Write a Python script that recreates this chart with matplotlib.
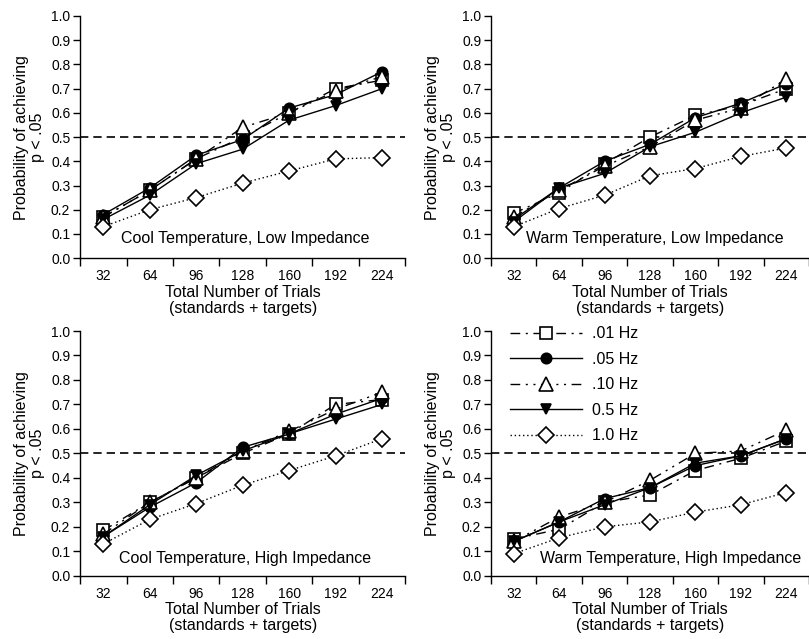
import matplotlib
matplotlib.use("Agg")
import matplotlib.pyplot as plt
from matplotlib.ticker import FixedLocator, NullFormatter

plt.rcParams['font.family'] = ['Liberation Sans', 'DejaVu Sans']

trials = ["32", "64", "96", "128", "160", "192", "224"]
series_names = [".01 Hz", ".05 Hz", ".10 Hz", "0.5 Hz", "1.0 Hz"]

cool_low = {
    ".01 Hz": [0.17, 0.28, 0.41, 0.50, 0.60, 0.70, 0.735],
    ".05 Hz": [0.18, 0.29, 0.425, 0.49, 0.62, 0.675, 0.77],
    ".10 Hz": [0.17, 0.28, 0.41, 0.54, 0.60, 0.69, 0.75],
    "0.5 Hz": [0.16, 0.26, 0.39, 0.45, 0.57, 0.63, 0.70],
    "1.0 Hz": [0.13, 0.20, 0.25, 0.31, 0.36, 0.41, 0.415],
}
warm_low = {
    ".01 Hz": [0.185, 0.27, 0.39, 0.50, 0.59, 0.63, 0.70],
    ".05 Hz": [0.16, 0.29, 0.40, 0.47, 0.58, 0.64, 0.72],
    ".10 Hz": [0.17, 0.28, 0.38, 0.46, 0.57, 0.62, 0.74],
    "0.5 Hz": [0.15, 0.29, 0.35, 0.46, 0.52, 0.60, 0.665],
    "1.0 Hz": [0.13, 0.205, 0.26, 0.34, 0.37, 0.42, 0.455],
}
cool_high = {
    ".01 Hz": [0.185, 0.30, 0.40, 0.50, 0.58, 0.70, 0.72],
    ".05 Hz": [0.16, 0.28, 0.38, 0.525, 0.58, 0.66, 0.725],
    ".10 Hz": [0.17, 0.30, 0.40, 0.51, 0.59, 0.68, 0.75],
    "0.5 Hz": [0.16, 0.29, 0.41, 0.51, 0.58, 0.64, 0.70],
    "1.0 Hz": [0.13, 0.23, 0.295, 0.37, 0.43, 0.49, 0.56],
}
warm_high = {
    ".01 Hz": [0.15, 0.19, 0.30, 0.33, 0.43, 0.48, 0.55],
    ".05 Hz": [0.14, 0.22, 0.315, 0.36, 0.45, 0.49, 0.56],
    ".10 Hz": [0.14, 0.24, 0.30, 0.39, 0.50, 0.51, 0.595],
    "0.5 Hz": [0.14, 0.22, 0.29, 0.36, 0.46, 0.49, 0.56],
    "1.0 Hz": [0.09, 0.155, 0.20, 0.22, 0.26, 0.29, 0.34],
}
panel_titles = ["Cool Temperature, Low Impedance", "Warm Temperature, Low Impedance",
                "Cool Temperature, High Impedance", "Warm Temperature, High Impedance"]
panels = [cool_low, warm_low, cool_high, warm_high]

styles = {
    ".01 Hz": dict(ls=(0, (7, 4, 1.5, 4)), marker='s', mfc='white', ms=8.5),
    ".05 Hz": dict(ls='-', marker='o', mfc='black', ms=7.5),
    ".10 Hz": dict(ls=(0, (7, 4, 1.5, 4, 1.5, 4)), marker='^', mfc='white', ms=10),
    "0.5 Hz": dict(ls='-', marker='v', mfc='black', ms=6.5),
    "1.0 Hz": dict(ls=(0, (1, 2)), marker='D', mfc='white', ms=8),
}

fig = plt.figure(figsize=(8.09, 6.39), dpi=100)
positions = [
    [0.099, 0.596, 0.402, 0.379],
    [0.607, 0.596, 0.393, 0.379],
    [0.099, 0.099, 0.402, 0.383],
    [0.607, 0.099, 0.393, 0.383],
]
text_x = [3.05, 3.1, 3.05, 3.45]
text_y = [0.08, 0.08, 0.07, 0.07]

x = list(range(len(trials)))
for i, (pos, data) in enumerate(zip(positions, panels)):
    ax = fig.add_axes(pos)
    for name in series_names:
        st = styles[name]
        ax.plot(x, data[name], color='black', lw=1.0, linestyle=st['ls'],
                marker=st['marker'], markerfacecolor=st['mfc'],
                markeredgecolor='black', markeredgewidth=1.2, markersize=st['ms'],
                label=name, clip_on=False, zorder=3)
    ax.axhline(0.5, color='black', lw=1.2, ls=(0, (5, 3)), zorder=1)
    ax.set_xlim(-0.5, 6.5)
    ax.set_ylim(0, 1.0)
    ax.set_yticks([k / 10 for k in range(11)])
    ax.set_yticklabels([f"{k/10:.1f}" for k in range(11)])
    ax.set_xticks(x)
    ax.set_xticklabels(trials)
    ax.xaxis.set_minor_locator(FixedLocator([k - 0.5 for k in range(8)]))
    ax.xaxis.set_minor_formatter(NullFormatter())
    ax.tick_params(axis='x', which='major', length=0, labelsize=10, pad=8)
    ax.tick_params(axis='x', which='minor', length=6, width=1, direction='out')
    ax.tick_params(axis='y', which='major', length=5, width=1, direction='out', labelsize=10, pad=2)
    for s in ['top', 'right']:
        ax.spines[s].set_visible(False)
    for s in ['left', 'bottom']:
        ax.spines[s].set_linewidth(1.0)
    ax.set_xlabel("Total Number of Trials\n(standards + targets)", fontsize=11.5, labelpad=1, linespacing=1.1)
    ax.set_ylabel("Probability of achieving\np < .05", fontsize=11.5, labelpad=4, linespacing=1.1)
    ax.text(text_x[i], text_y[i], panel_titles[i], ha='center', va='center', fontsize=11.5)
    if i == 3:
        ax.legend(loc='upper left', bbox_to_anchor=(0.06, 1.02), frameon=False,
                  borderpad=0, borderaxespad=0, handlelength=4.5, handletextpad=0.6,
                  labelspacing=0.66, fontsize=11.5)

fig.savefig("out.png", dpi=100)
